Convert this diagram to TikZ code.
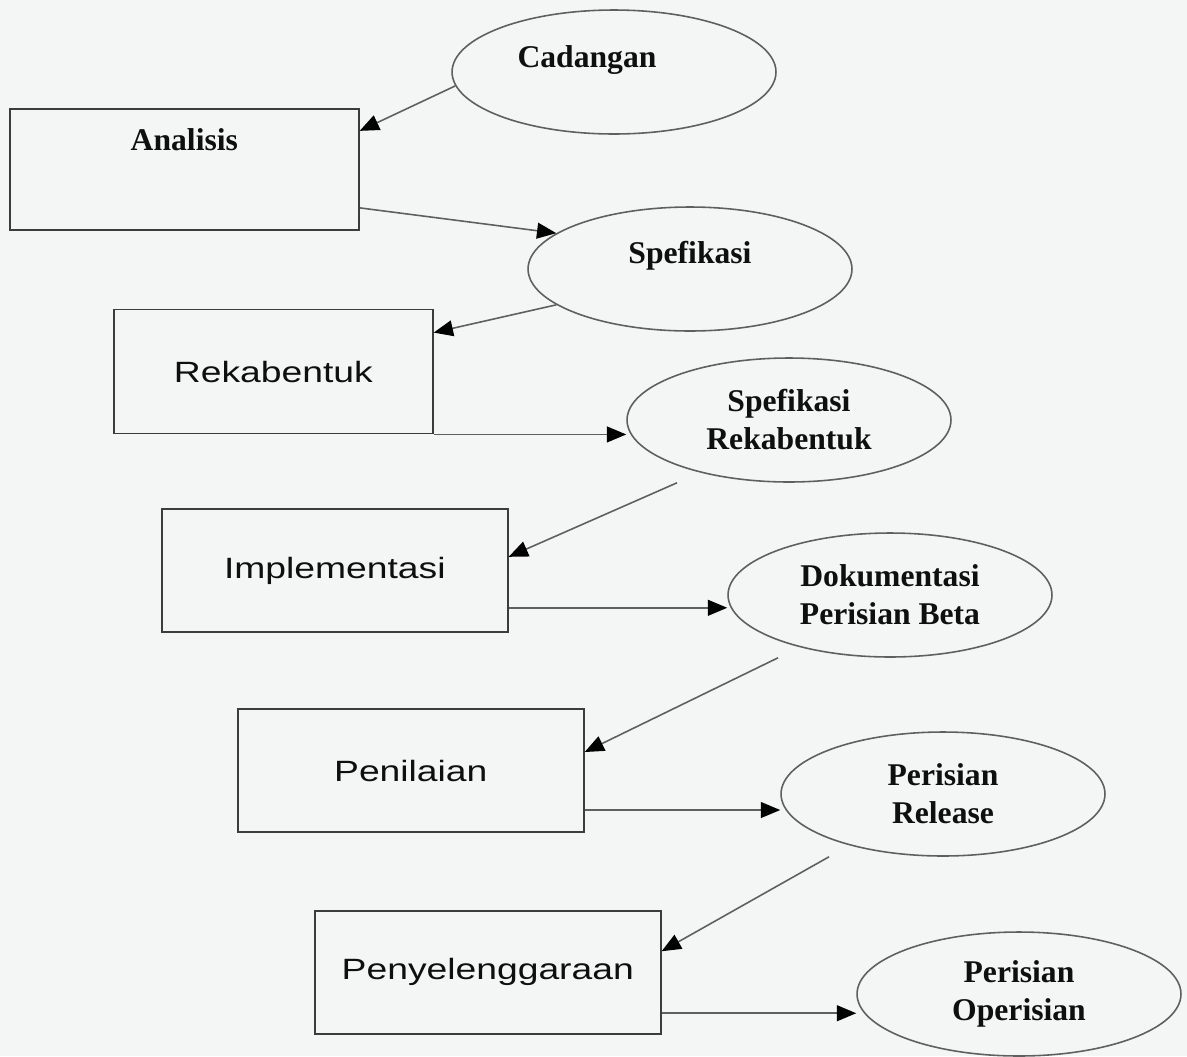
\documentclass[tikz,border=0pt]{standalone}
\usepackage{fontspec}
\setmainfont{Liberation Serif}
\newfontfamily\boxfont[FakeStretch=1.27]{Liberation Sans}
\usepackage{xcolor}
\usepackage{tikz}
\usetikzlibrary{shapes.geometric,arrows.meta,positioning}

\definecolor{paper}{RGB}{244,245,245}
\definecolor{ink}{RGB}{15,15,15}
\definecolor{edgegray}{RGB}{95,95,95}
\definecolor{rimgray}{RGB}{60,60,60}

\begin{document}
\begin{tikzpicture}[x=0.02cm,y=-0.02cm,->,>={Triangle[length=11pt,width=9pt,color=black]},
    every edge/.style={draw=edgegray,line width=0.9pt},
    oval text/.style={text=ink,font=\fontsize{18}{21.6}\selectfont\bfseries},
    phase box/.style={rectangle,draw=rimgray,line width=1pt,minimum width=6.92cm,minimum height=2.46cm,inner sep=0pt,text=ink,font=\boxfont\fontsize{16.7}{20}\selectfont},
    output oval/.style={ellipse,draw=edgegray,line width=0.9pt,minimum width=6.48cm,minimum height=2.48cm,inner sep=0pt,align=center,oval text}]
    \fill[paper] (0,0) rectangle (1187,1056);
    \useasboundingbox (0,0) rectangle (1187,1056);

    % phases
    \node[phase box,minimum width=6.98cm,minimum height=2.42cm,anchor=north west,label={[oval text,yshift=0.59cm]center:Analisis}] (ana) at (9,108) {};
    \node[phase box,minimum width=6.38cm,minimum height=2.48cm] (rek) [below right=1.56cm and 2.08cm of ana.south west] {Rekabentuk};
    \node[phase box] (imp) [below right=1.48cm and 0.96cm of rek.south west] {Implementasi};
    \node[phase box] (pen) [below right=1.5cm and 1.52cm of imp.south west] {Penilaian};
    \node[phase box] (pey) [below right=1.54cm and 1.54cm of pen.south west] {Penyelenggaraan};

    % outputs
    \node[output oval,label={[oval text,xshift=-0.54cm,yshift=0.24cm]center:Cadangan}] (cad) at (614,72) {};
    \node[output oval,label={[oval text,yshift=0.27cm]center:Spefikasi}] (spf) at (690,269) {};
    \node[output oval] (spr) at (789,420) {Spefikasi\\Rekabentuk};
    \node[output oval] (dok) at (890,595) {Dokumentasi\\Perisian Beta};
    \node[output oval] (prl) at (943,794) {Perisian\\Release};
    \node[output oval] (pop) at (1019,994) {Perisian\\Operisian};

    \coordinate (imptail) at ([yshift=-0.74cm]imp.east);
    \coordinate (pentail) at ([yshift=-0.79cm]pen.east);
    \coordinate (peytail) at ([yshift=-0.82cm]pey.east);

    \path (cad.185) edge ([yshift=0.77cm]ana.east)
        ([yshift=-0.77cm]ana.east) edge (spf.165)
        (spf.195) edge ([yshift=0.78cm]rek.east)
        (rek.south east) edge (rek.south east -| spr.west)
        ([xshift=-2.24cm]spr.south) edge ([yshift=0.28cm]imp.east)
        (imptail) edge (imptail -| dok.west)
        ([xshift=-2.24cm]dok.south) edge ([yshift=0.37cm]pen.east)
        (pentail) edge (pentail -| prl.west)
        ([xshift=-2.28cm]prl.south) edge ([yshift=0.42cm]pey.east)
        (peytail) edge (peytail -| pop.west);
\end{tikzpicture}
\end{document}
